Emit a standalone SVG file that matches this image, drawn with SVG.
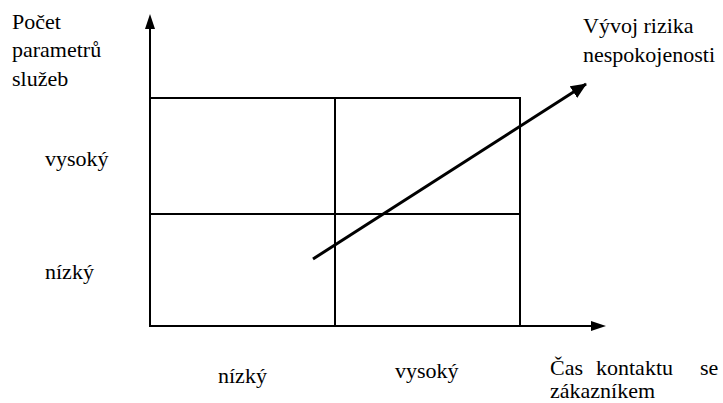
<svg xmlns="http://www.w3.org/2000/svg" width="723" height="403" viewBox="0 0 723 403">
<style>
text{font-family:"Liberation Serif","Times New Roman",serif;font-size:22px;fill:#000}
.ln{stroke:#000;stroke-width:2;fill:none}
</style>
<defs>
<marker id="ah2" markerWidth="16" markerHeight="14" refX="15" refY="7" orient="auto" markerUnits="userSpaceOnUse">
<path d="M0,0 L16,7 L0,14 Z" fill="#000"/>
</marker>
</defs>
<g id="grid">
<rect class="ln" x="150" y="98" width="370" height="228"/>
<line class="ln" x1="335" y1="98" x2="335" y2="326"/>
<line class="ln" x1="150" y1="214" x2="520" y2="214"/>
</g>
<g id="connectors">
<path d="M150,326 V28" class="ln"/>
<path d="M145,29 L150,14 L155,29 Z" fill="#000"/>
<path d="M150,326 H592" class="ln"/>
<path d="M591,321 L606,326 L591,331 Z" fill="#000"/>
<line x1="313" y1="259" x2="586" y2="84" stroke="#000" stroke-width="3" marker-end="url(#ah2)"/>
</g>
<g id="y-label"><text x="12" y="29">Počet</text><text x="12" y="57">parametrů</text><text x="12" y="86">služeb</text></g>
<g id="risk-label"><text x="583" y="33">Vývoj rizika</text><text x="583" y="62">nespokojenosti</text></g>
<g id="y-high"><text x="45" y="166">vysoký</text></g>
<g id="y-low"><text x="45" y="279">nízký</text></g>
<g id="x-low"><text x="218" y="383">nízký</text></g>
<g id="x-high"><text x="395" y="378">vysoký</text></g>
<g id="x-label"><text x="550" y="375">Čas</text><text x="596" y="375">kontaktu</text><text x="700" y="375">se</text><text x="550" y="398">zákazníkem</text></g>
</svg>
